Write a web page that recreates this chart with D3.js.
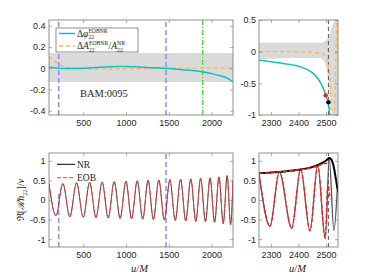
<!DOCTYPE html>
<html lang="en">
<head>
<meta charset="UTF-8">
<title>BAM:0095 EOB vs NR</title>
<script src="https://d3js.org/d3.v7.min.js"></script>
<style>
  body { margin: 0; background: #fff; }
  svg { display: block; font-family: "Liberation Serif", "DejaVu Serif", serif; }
  .tick text { font-size: 9px; fill: #262626; }
  .tick line { stroke: #777; stroke-width: 0.6; }
</style>
</head>
<body>
<script>
// ---- values ----
// top-left: phase / amplitude differences over the inspiral
const uLeft = [100, 150, 213, 300, 400, 500, 600, 700, 800, 900, 1000, 1100, 1200, 1300, 1400, 1500, 1600, 1700, 1800, 1900, 2000, 2100, 2200, 2250];
const dPhiLeft = [0.012, 0.005, 0.0, -0.003, -0.002, 0.0, 0.005, 0.01, 0.015, 0.018, 0.018, 0.014, 0.01, 0.006, 0.002, -0.002, -0.01, -0.017, -0.024, -0.035, -0.05, -0.07, -0.1, -0.13];
const dAmpLeft = [0.11, 0.075, 0.04, 0.012, 0.0, -0.005, -0.008, -0.008, -0.007, -0.007, -0.006, -0.005, -0.004, -0.002, -0.001, 0.0, 0.001, 0.002, 0.002, 0.003, 0.003, 0.003, 0.003, 0.003];
const bandLeftU = [100, 2250];
const bandLeftHi = [0.145, 0.145];
const bandLeftLo = [-0.13, -0.13];

// top-right: same quantities near merger
const dPhiRightU = [2256, 2300, 2350, 2390, 2430, 2450, 2470, 2485, 2495, 2500, 2505, 2509, 2512, 2514];
const dPhiRight = [-0.135, -0.16, -0.19, -0.22, -0.28, -0.33, -0.42, -0.53, -0.63, -0.70, -0.75, -0.81, -0.92, -1.05];
const dAmpRightU = [2256, 2350, 2420, 2460, 2485, 2503, 2509, 2515, 2518, 2521, 2526, 2531, 2534, 2536, 2539, 2543];
const dAmpRight = [0.0, 0.0, -0.005, -0.015, -0.03, -0.07, -0.21, -0.47, -0.89, -1.05, null, -1.05, -0.5, -0.1, 0.35, 0.6];
const bandRightU = [2256, 2400, 2480, 2495, 2505, 2509, 2515, 2521, 2527, 2533, 2544];
const bandRightHi = [0.14, 0.14, 0.14, 0.16, 0.2, 0.22, 0.3, 0.38, 0.44, 0.5, 0.55];
const bandRightLo = [-0.12, -0.1, -0.1, -0.17, -0.33, -0.47, -0.7, -0.95, -1.05, -1.05, -1.05];
const mergerU = [2499, 2509];   // EOB, NR
const mergerV = [-0.69, -0.80];

// bottom-left: waveform extrema (NR and EOB)
const waveT = [100, 182, 262, 343, 422, 500, 575, 649, 721, 792, 862, 931, 999, 1065, 1131, 1195, 1258, 1320, 1383, 1448, 1512, 1575, 1637, 1698, 1757, 1815, 1872, 1928, 1982, 2035, 2086, 2136, 2182, 2222, 2250];
const nrWave = [0.42, -0.40, 0.42, -0.43, 0.44, -0.44, 0.45, -0.45, 0.46, -0.46, 0.47, -0.47, 0.48, -0.48, 0.49, -0.49, 0.50, -0.50, 0.51, -0.51, 0.52, -0.52, 0.53, -0.53, 0.54, -0.54, 0.55, -0.55, 0.56, -0.57, 0.59, -0.60, 0.62, -0.63, 0.5];
const eobWave = [0.42, -0.41, 0.42, -0.43, 0.43, -0.44, 0.45, -0.45, 0.46, -0.46, 0.47, -0.47, 0.48, -0.48, 0.49, -0.49, 0.50, -0.50, 0.51, -0.51, 0.52, -0.52, 0.53, -0.54, 0.54, -0.55, 0.55, -0.56, 0.57, -0.57, 0.59, -0.61, 0.62, -0.63, 0.5];

// bottom-right: waveform and amplitude near merger
const nrRT = [2256, 2296, 2330, 2375, 2408, 2442, 2470, 2498, 2512, 2529, 2541];
const nrRV = [0.68, -0.67, 0.72, -0.72, 0.78, -0.79, 0.89, -0.99, 1.07, -0.78, 0.22];
const eobRT = [2256, 2296, 2330, 2375, 2408, 2442, 2470, 2497, 2507, 2515];
const eobRV = [0.68, -0.67, 0.72, -0.72, 0.78, -0.79, 0.88, -0.97, 0.4, 0.02];
const nrAmpT = [2256, 2300, 2350, 2400, 2440, 2470, 2490, 2503, 2512, 2520, 2528, 2536, 2544];
const nrAmpV = [0.68, 0.70, 0.73, 0.77, 0.82, 0.89, 0.96, 1.02, 1.07, 1.03, 0.86, 0.55, 0.2];
const eobAmpT = [2256, 2300, 2350, 2400, 2440, 2470, 2490, 2504];
const eobAmpV = [0.68, 0.70, 0.73, 0.77, 0.81, 0.87, 0.92, 0.94];

// marker times
const tWinStart = 213, tWinEnd = 1467, tMatch = 1896, tMerger = 2509;

// ticks
const xTicksLeft = [500, 1000, 1500, 2000];
const xTicksRight = [2300, 2400, 2500];
const yTicksTL = [-0.4, -0.2, 0, 0.2, 0.4];
const yTicksTR = [-1, -0.5, 0, 0.5];
const yTicksWave = [-1, -0.5, 0, 0.5, 1];

// ---- drawing ----
const svg = d3.select("body").append("svg").attr("width", 374).attr("height", 279);
let clipN = 0;

function makePanel(box, xDom, yDom) {
  const x = d3.scaleLinear().domain(xDom).range([box.l, box.r]);
  const y = d3.scaleLinear().domain(yDom).range([box.b, box.t]);
  const id = "clip" + (clipN++);
  svg.append("clipPath").attr("id", id).append("rect")
    .attr("x", box.l).attr("y", box.t).attr("width", box.r - box.l).attr("height", box.b - box.t);
  const g = svg.append("g").attr("clip-path", `url(#${id})`);
  return { x, y, g, box };
}

function frame(p, xt, yt, xpad, ypad) {
  const b = p.box;
  const fmt = d => String(d);
  const ax = (gen, tx, ty) => {
    const a = svg.append("g").attr("transform", `translate(${tx},${ty})`).call(gen);
    a.select(".domain").remove();
  };
  ax(d3.axisBottom(p.x).tickValues(xt).tickSizeInner(-3).tickSizeOuter(0).tickPadding(xpad).tickFormat(fmt), 0, b.b);
  ax(d3.axisTop(p.x).tickValues(xt).tickSizeInner(-3).tickSizeOuter(0).tickFormat(""), 0, b.t);
  ax(d3.axisLeft(p.y).tickValues(yt).tickSizeInner(-3).tickSizeOuter(0).tickPadding(ypad).tickFormat(fmt), b.l, 0);
  ax(d3.axisRight(p.y).tickValues(yt).tickSizeInner(-3).tickSizeOuter(0).tickFormat(""), b.r, 0);
  svg.append("rect").attr("x", b.l).attr("y", b.t).attr("width", b.r - b.l).attr("height", b.b - b.t)
    .attr("fill", "none").attr("stroke", "#777").attr("stroke-width", 0.8);
}

function vline(p, u, color, dash, width, vFrom, vTo) {
  const y0 = vFrom === undefined ? p.box.b : p.y(vFrom);
  const y1 = vTo === undefined ? p.box.t : p.y(vTo);
  p.g.append("line").attr("x1", p.x(u)).attr("x2", p.x(u)).attr("y1", y0).attr("y2", y1)
    .attr("stroke", color).attr("stroke-width", width).attr("stroke-dasharray", dash);
}

function curve(p, us, vs, color, width, dash) {
  const pts = us.map((u, i) => [u, vs[i]]);
  const line = d3.line().defined(d => d[1] !== null)
    .x(d => p.x(d[0])).y(d => p.y(d[1])).curve(d3.curveMonotoneX);
  p.g.append("path").attr("d", line(pts)).attr("fill", "none")
    .attr("stroke", color).attr("stroke-width", width).attr("stroke-dasharray", dash || null);
}

function band(p, us, lo, hi) {
  const pts = us.map((u, i) => [u, lo[i], hi[i]]);
  const area = d3.area().x(d => p.x(d[0])).y0(d => p.y(d[1])).y1(d => p.y(d[2])).curve(d3.curveMonotoneX);
  p.g.append("path").attr("d", area(pts)).attr("fill", "#dadada");
}

// text with stacked super/subscripts
function richText(parent, x, y, parts, size) {
  const g = parent.append("g").attr("transform", `translate(${x},${y})`).attr("fill", "#262626");
  let cx = 0;
  parts.forEach(p => {
    if (p.sup !== undefined || p.sub !== undefined) {
      let w = 0;
      if (p.sup) {
        const t = g.append("text").attr("x", cx).attr("y", -size * 0.42).attr("font-size", size * 0.6).text(p.sup);
        w = Math.max(w, t.node().getComputedTextLength());
      }
      if (p.sub) {
        const t = g.append("text").attr("x", cx).attr("y", size * 0.28).attr("font-size", size * 0.6).text(p.sub);
        w = Math.max(w, t.node().getComputedTextLength());
      }
      cx += w + 0.4;
    } else {
      const t = g.append("text").attr("x", cx).attr("font-size", size)
        .attr("font-style", p.i ? "italic" : null).text(p.t);
      cx += t.node().getComputedTextLength();
    }
  });
  return { g, width: cx };
}

const cyan = "#12bfbf", orange = "#ffb45e", blue = "#8c8cff", green = "#2ddb2d";

// top-left
const tl = makePanel({ l: 49, r: 233, t: 20, b: 115 }, [100, 2250], [-0.44, 0.455]);
band(tl, bandLeftU, bandLeftLo, bandLeftHi);
vline(tl, tWinStart, blue, "5,3", 1.5);
vline(tl, tWinEnd, blue, "5,3", 1.5);
vline(tl, tMatch, green, "5,2,1,2", 1.2);
curve(tl, uLeft, dAmpLeft, orange, 1.4, "4,3");
curve(tl, uLeft, dPhiLeft, cyan, 1.5);
frame(tl, xTicksLeft, yTicksTL, 5, 3.5);
svg.append("text").attr("x", 80).attr("y", 96.5).attr("font-size", 10.5).attr("fill", "#262626").text("BAM:0095");

// legend (top-left)
svg.append("rect").attr("x", 56).attr("y", 28).attr("width", 82).attr("height", 24)
  .attr("fill", "#fff").attr("stroke", "#444").attr("stroke-width", 0.6);
svg.append("line").attr("x1", 59).attr("x2", 75).attr("y1", 33.5).attr("y2", 33.5).attr("stroke", cyan).attr("stroke-width", 1.5);
svg.append("line").attr("x1", 59).attr("x2", 75).attr("y1", 46).attr("y2", 46).attr("stroke", orange).attr("stroke-width", 1.4).attr("stroke-dasharray", "4,3");
richText(svg, 77, 36.5, [{ t: "Δ" }, { t: "φ", i: true }, { sup: "EOBNR", sub: "22" }], 9.5);
richText(svg, 77, 49, [{ t: "Δ" }, { t: "A", i: true }, { sup: "EOBNR", sub: "22" }, { t: "/" }, { t: "A", i: true }, { sup: "NR", sub: "22" }], 9.5);

// top-right
const tr = makePanel({ l: 259, r: 338, t: 20, b: 115 }, [2256, 2544], [-1, 0.5]);
band(tr, bandRightU, bandRightLo, bandRightHi);
vline(tr, tMerger, "#555", "4,3", 1);
curve(tr, dAmpRightU, dAmpRight, orange, 1.4, "4,3");
curve(tr, dPhiRightU, dPhiRight, cyan, 1.5);
tr.g.selectAll("circle.mrg").data(mergerU).join("circle").attr("class", "mrg")
  .attr("cx", d => tr.x(d)).attr("cy", (d, i) => tr.y(mergerV[i])).attr("r", 2.2)
  .attr("fill", (d, i) => i === 0 ? "#ff1a1a" : "#000");
frame(tr, xTicksRight, yTicksTR, 5, 3);

// bottom-left
const bl = makePanel({ l: 49, r: 233, t: 153, b: 247 }, [100, 2250], [-1.2, 1.2]);
vline(bl, tWinStart, blue, "5,3", 1.5, -1.2, 0.21);
vline(bl, tWinEnd, blue, "5,3", 1.5);
curve(bl, waveT, nrWave, "#2a2a2a", 0.9);
curve(bl, waveT, eobWave, "#ff3c3c", 0.9, "4,2");
frame(bl, xTicksLeft, yTicksWave, 5, 3.5);

svg.append("line").attr("x1", 57).attr("x2", 75).attr("y1", 164.3).attr("y2", 164.3).attr("stroke", "#000").attr("stroke-width", 1);
svg.append("line").attr("x1", 57).attr("x2", 75).attr("y1", 177.7).attr("y2", 177.7).attr("stroke", "#ff3c3c").attr("stroke-width", 1).attr("stroke-dasharray", "4,2");
svg.append("text").attr("x", 77).attr("y", 167.5).attr("font-size", 9.5).attr("fill", "#262626").text("NR");
svg.append("text").attr("x", 77).attr("y", 181).attr("font-size", 9.5).attr("fill", "#262626").text("EOB");

// bottom-right
const br = makePanel({ l: 259, r: 338, t: 153, b: 247 }, [2256, 2544], [-1.2, 1.2]);
vline(br, tMerger, "#555", "4,3", 1);
curve(br, nrRT, nrRV, "#555", 1.3);
curve(br, eobRT, eobRV, "#ff2020", 1.3, "4,2");
curve(br, nrAmpT, nrAmpV, "#000", 2);
curve(br, eobAmpT, eobAmpV, "#ff2020", 1.5, "4,2");
frame(br, xTicksRight, yTicksWave, 5, 3);

// axis labels
richText(svg, 131, 271.5, [{ t: "u", i: true }, { t: "/" }, { t: "M", i: true }], 10.5);
richText(svg, 289, 271.5, [{ t: "u", i: true }, { t: "/" }, { t: "M", i: true }], 10.5);
const yl = svg.append("g").attr("transform", "translate(24,200) rotate(-90)");
const ylt = richText(yl, 0, 0, [{ t: "ℜ[" }, { t: "ℛ", i: true }, { t: "h", i: true }, { sub: "22" }, { t: "]/" }, { t: "ν", i: true }], 10);
ylt.g.attr("transform", `translate(${-ylt.width / 2},0)`);
</script>
</body>
</html>
